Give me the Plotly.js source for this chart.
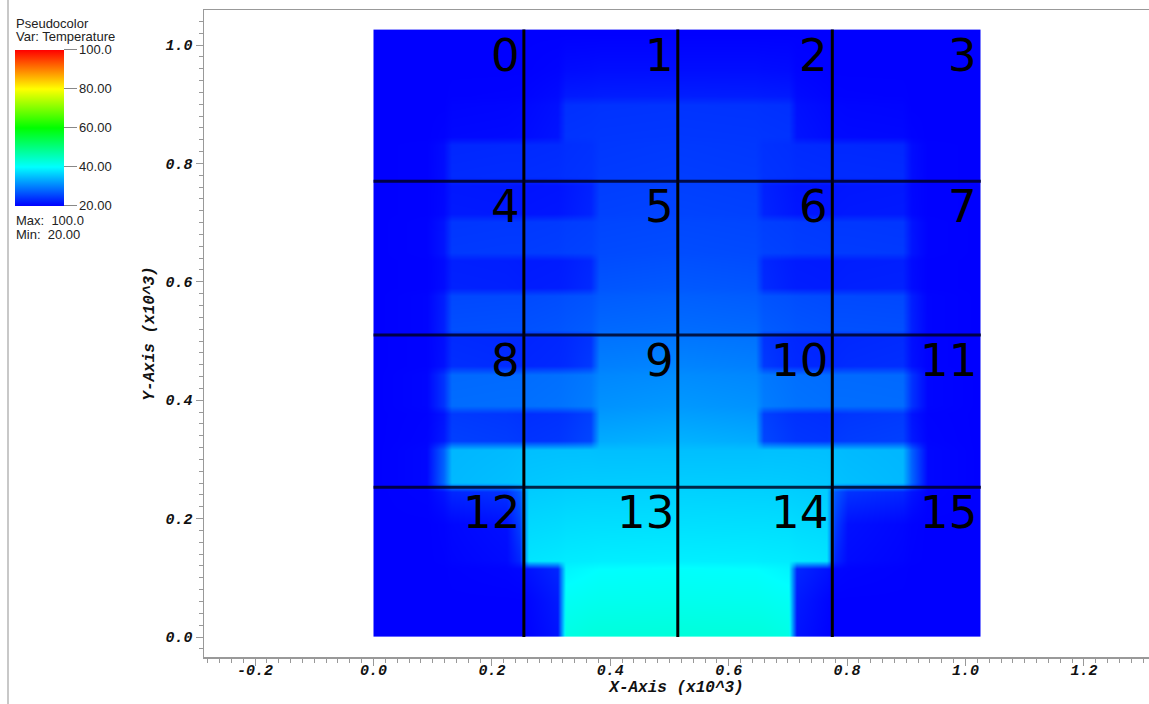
<!DOCTYPE html>
<html>
<head>
<meta charset="utf-8">
<script src="https://cdn.plot.ly/plotly-3.0.1.min.js"></script>
<style>html,body{margin:0;padding:0;background:#fff;}#plot{width:1149px;height:704px;}</style>
</head>
<body>
<div id="plot"></div>
<script>
// Sample positions (left half, data units x10^3); right half mirrors about the centre
var xNodesLeft = [0.002, 0.006, 0.09, 0.118, 0.132, 0.225, 0.247, 0.261, 0.311, 0.325, 0.367, 0.381, 0.513];
var xExtent = 1.026;
var yNodes = [0.002, 0.006, 0.06, 0.115, 0.129, 0.19, 0.246, 0.26, 0.317, 0.331, 0.377, 0.391, 0.444, 0.458,
              0.505, 0.519, 0.576, 0.590, 0.636, 0.650, 0.701, 0.715, 0.763, 0.777, 0.831, 0.845, 0.900,
              0.914, 0.96, 1.020, 1.024];
// Temperature (left half rows, bottom to top)
var tempLeft = [
 [20, 20, 20, 20, 20, 20, 20, 20.3, 21.5, 42.0, 42.6, 42.7, 42.8],
 [20, 20, 20, 20, 20, 20, 20, 20.3, 21.5, 42.0, 42.6, 42.7, 42.8],
 [20, 20, 20, 20, 20, 20, 20, 20.5, 22.0, 40.8, 41.2, 41.3, 41.4],
 [20, 20, 20, 20, 20.1, 20.3, 20.5, 21.5, 23.0, 39.2, 39.8, 40.0, 40.2],
 [20, 20, 20, 20.1, 20.3, 20.8, 23.0, 38.0, 38.3, 38.5, 38.6, 38.7, 38.8],
 [20, 20, 20, 20.2, 20.5, 21.2, 25.0, 37.0, 37.2, 37.4, 37.5, 37.5, 37.6],
 [20, 20, 20.2, 21.5, 23.0, 24.0, 27.0, 36.0, 36.2, 36.3, 36.4, 36.4, 36.5],
 [20, 20, 20.5, 28.0, 34.5, 35.0, 35.2, 35.6, 35.8, 35.9, 36.0, 36.0, 36.1],
 [20, 20, 20.5, 27.5, 34.3, 34.6, 34.8, 35.0, 35.1, 35.1, 35.1, 35.0, 35.0],
 [20, 20, 20.3, 22.0, 25.0, 24.7, 24.5, 24.0, 24.2, 24.5, 25.5, 33.5, 34.0],
 [20, 20, 20.2, 21.5, 24.5, 24.2, 24.0, 23.6, 23.8, 24.0, 25.0, 32.0, 32.5],
 [20, 20, 20.4, 24.0, 28.5, 28.6, 28.6, 28.8, 29.0, 29.2, 29.8, 31.5, 32.0],
 [20, 20, 20.4, 24.0, 28.2, 28.3, 28.3, 28.5, 28.7, 28.9, 29.4, 30.6, 31.0],
 [20, 20, 20.2, 21.3, 23.6, 23.4, 23.2, 23.0, 23.2, 23.4, 24.5, 30.0, 30.4],
 [20, 20, 20.2, 21.1, 23.3, 23.1, 23.0, 22.8, 23.0, 23.2, 24.0, 29.0, 29.3],
 [20, 20, 20.3, 22.5, 26.2, 26.3, 26.3, 26.4, 26.6, 26.8, 27.2, 28.2, 28.5],
 [20, 20, 20.3, 22.3, 25.6, 25.7, 25.7, 25.8, 26.0, 26.2, 26.5, 27.2, 27.5],
 [20, 20, 20.1, 20.9, 22.6, 22.5, 22.4, 22.2, 22.3, 22.5, 23.3, 26.7, 27.0],
 [20, 20, 20.1, 20.8, 22.4, 22.3, 22.2, 22.0, 22.1, 22.3, 23.0, 26.0, 26.3],
 [20, 20, 20.2, 21.6, 24.5, 24.6, 24.6, 24.7, 24.8, 25.0, 25.2, 25.8, 26.0],
 [20, 20, 20.2, 21.5, 24.2, 24.3, 24.3, 24.4, 24.5, 24.7, 24.9, 25.4, 25.6],
 [20, 20, 20.1, 20.6, 22.0, 21.9, 21.8, 21.6, 21.7, 22.0, 22.8, 25.1, 25.3],
 [20, 20, 20.1, 20.5, 21.8, 21.7, 21.6, 21.4, 21.5, 21.8, 22.6, 24.8, 25.0],
 [20, 20, 20.1, 21.0, 23.3, 23.4, 23.4, 23.5, 23.6, 23.8, 24.0, 24.6, 24.8],
 [20, 20, 20.1, 20.9, 23.0, 23.1, 23.1, 23.2, 23.3, 23.6, 23.8, 24.3, 24.5],
 [20, 20, 20.0, 20.2, 20.6, 20.7, 20.8, 21.0, 21.5, 24.0, 24.1, 24.2, 24.3],
 [20, 20, 20.0, 20.0, 20.3, 20.4, 20.5, 20.7, 21.2, 23.7, 23.8, 23.9, 24.0],
 [20, 20, 20.0, 20.0, 20.1, 20.15, 20.2, 20.4, 20.8, 22.0, 22.1, 22.2, 22.3],
 [20, 20, 20.0, 20.0, 20.0, 20.0, 20.0, 20.1, 20.3, 20.8, 20.9, 21.0, 21.0],
 [20, 20, 20, 20, 20, 20, 20, 20, 20, 20, 20, 20, 20],
 [20, 20, 20, 20, 20, 20, 20, 20, 20, 20, 20, 20, 20]
];
// Domain decomposition
var domainX = [0, 0.254, 0.514, 0.775, 1.026];
var domainY = [0, 0.253, 0.510, 0.770, 1.026];
var domainLabels = ['0','1','2','3','4','5','6','7','8','9','10','11','12','13','14','15'];
// Axis ticks
var xTickVals = [-0.2, 0.0, 0.2, 0.4, 0.6, 0.8, 1.0, 1.2];
var xTickText = ['-0.2', '0.0', '0.2', '0.4', '0.6', '0.8', '1.0', '1.2'];
var yTickVals = [0.0, 0.2, 0.4, 0.6, 0.8, 1.0];
var yTickText = ['0.0', '0.2', '0.4', '0.6', '0.8', '1.0'];
var cbTickVals = [20, 40, 60, 80, 100];
var cbTickText = ['20.00', '40.00', '60.00', '80.00', '100.0'];

// Build full symmetric grid
var nL = xNodesLeft.length;
var xNodes = xNodesLeft.concat(xNodesLeft.slice(0, nL - 1).reverse().map(function (v) { return +(xExtent - v).toFixed(4); }));
var z = tempLeft.map(function (row) { return row.concat(row.slice(0, nL - 1).reverse()); });

var W = 1149, H = 704, mL = 204, mR = 0, mT = 10, mB = 47;
var pw = W - mL - mR, ph = H - mT - mB;
function px2paperX(px) { return (px - mL) / pw; }
function px2paperY(py) { return (H - mB - py) / ph; }
function px2dataX(px) { return (px - 373.5) / 592; }
function px2dataY(py) { return (637 - py) / 592; }

var heat = {
  type: 'heatmap',
  x: xNodes, y: yNodes, z: z,
  zmin: 20, zmax: 100,
  zsmooth: 'best',
  colorscale: [[0, 'rgb(0,0,255)'], [0.25, 'rgb(0,255,255)'], [0.5, 'rgb(0,255,0)'], [0.75, 'rgb(255,255,0)'], [1, 'rgb(255,0,0)']],
  hoverinfo: 'skip',
  colorbar: {
    xref: 'container', yref: 'container',
    x: 15 / W, xanchor: 'left',
    y: 1 - 139 / H, yanchor: 'middle',
    thickness: 49, thicknessmode: 'pixels',
    len: 156, lenmode: 'pixels',
    xpad: 0, ypad: 0,
    outlinewidth: 0, borderwidth: 0,
    ticks: 'outside', ticklen: 13, tickwidth: 1, tickcolor: '#888',
    tickmode: 'array', tickvals: cbTickVals, ticktext: cbTickText,
    tickfont: {family: 'Liberation Sans', size: 13, color: '#222'}
  }
};

var shapes = [];
for (var i = 1; i < domainX.length - 1; i++) {
  shapes.push({type: 'line', xref: 'x', yref: 'y', x0: domainX[i], x1: domainX[i], y0: domainY[0], y1: domainY[domainY.length - 1],
               line: {color: '#000', width: 3}, layer: 'above'});
}
for (var j = 1; j < domainY.length - 1; j++) {
  shapes.push({type: 'line', xref: 'x', yref: 'y', y0: domainY[j], y1: domainY[j], x0: domainX[0], x1: domainX[domainX.length - 1],
               line: {color: 'rgba(0,0,30,0.82)', width: 3}, layer: 'above'});
}
// window border line at left
shapes.push({type: 'line', xref: 'paper', yref: 'paper', x0: px2paperX(8), x1: px2paperX(8), y0: px2paperY(704), y1: px2paperY(0),
             line: {color: '#c8c8c8', width: 2}});

var annotations = [];
for (var r = 0; r < 4; r++) {
  for (var c = 0; c < 4; c++) {
    annotations.push({
      x: domainX[c + 1], y: domainY[4 - r], xref: 'x', yref: 'y',
      text: domainLabels[r * 4 + c], showarrow: false,
      xanchor: 'right', yanchor: 'top', xshift: -2, yshift: 3,
      font: {family: 'DejaVu Sans', size: 45, color: '#000'}
    });
  }
}
var legendFont = {family: 'Liberation Sans', size: 13, color: '#222'};
[['Pseudocolor', 23], ['Var: Temperature', 36], ['Max:\u00a0\u00a0100.0', 221], ['Min:\u00a0\u00a020.00', 235]].forEach(function (t) {
  annotations.push({xref: 'paper', yref: 'paper', x: px2paperX(14), y: px2paperY(t[1]), xanchor: 'left', yanchor: 'middle',
                    text: t[0], showarrow: false, font: legendFont});
});

var axFont = {family: 'Liberation Mono', size: 15, color: '#111', weight: 'bold', style: 'italic'};
var titleFont = {family: 'Liberation Mono', size: 16, color: '#111', weight: 'bold', style: 'italic'};
var layout = {
  width: W, height: H,
  margin: {l: mL, r: mR, t: mT, b: mB, pad: 0},
  paper_bgcolor: '#fff', plot_bgcolor: '#fff',
  showlegend: false,
  xaxis: {
    range: [px2dataX(mL), px2dataX(W - mR)],
    showgrid: false, zeroline: false,
    showline: true, linecolor: '#999', linewidth: 1.5, mirror: true,
    ticks: 'outside', ticklen: 7, tickcolor: '#999', tickwidth: 1,
    tickmode: 'array', tickvals: xTickVals, ticktext: xTickText,
    ticklabelstandoff: -9,
    minor: {dtick: 0.02, tick0: 0, ticklen: 4, tickcolor: '#999', ticks: 'outside', showgrid: false},
    tickfont: axFont,
    title: {text: 'X-Axis (x10^3)', font: titleFont, standoff: 2}
  },
  yaxis: {
    range: [px2dataY(H - mB), px2dataY(mT)],
    showgrid: false, zeroline: false,
    showline: true, linecolor: '#999', linewidth: 1.5, mirror: false,
    ticks: 'outside', ticklen: 7, tickcolor: '#999', tickwidth: 1,
    tickmode: 'array', tickvals: yTickVals, ticktext: yTickText,
    minor: {dtick: 0.02, tick0: 0, ticklen: 4, tickcolor: '#999', ticks: 'outside', showgrid: false},
    tickfont: axFont,
    title: {text: 'Y-Axis (x10^3)', font: titleFont, standoff: 7}
  },
  shapes: shapes,
  annotations: annotations
};

Plotly.newPlot('plot', [heat], layout, {staticPlot: true, displayModeBar: false});
</script>
</body>
</html>
